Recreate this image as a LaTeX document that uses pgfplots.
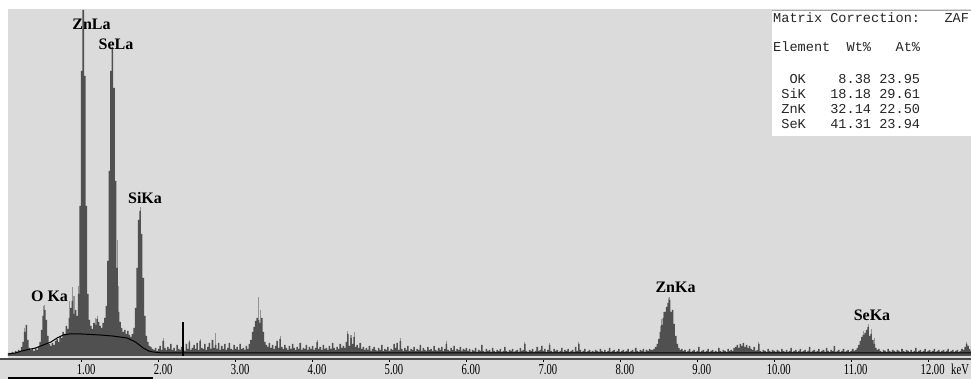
\documentclass[border=0pt]{standalone}
\usepackage{fontspec}
\usepackage{pgfplots}
\pgfplotsset{compat=1.18}
\setmainfont{Liberation Serif}
\newfontfamily\tickfamily[FakeStretch=0.7]{Liberation Serif}
\newfontfamily\peakfamily{Liberation Serif}
\newfontfamily\tabfamily{Liberation Mono}
\definecolor{panel}{HTML}{DBDBDB}
\definecolor{specdark}{HTML}{505050}
\definecolor{speclight}{HTML}{939393}
\definecolor{axisline}{HTML}{4A4A4A}
\definecolor{tabtext}{HTML}{262626}
\newcommand{\peakfont}{\peakfamily\bfseries\fontsize{16}{18}\selectfont}
\newcommand{\tickfont}{\tickfamily\fontsize{15.2}{17}\selectfont}
\newcommand{\tabfont}{\tabfamily\fontsize{13.6}{15}\selectfont}
\begin{document}
\begin{tikzpicture}
% panel backgrounds
\fill[white] (0pt,-20pt) rectangle (971pt,359pt);
\fill[panel] (8pt,-20pt) rectangle (971pt,350pt);
\fill[panel] (0pt,-20pt) rectangle (8pt,0pt);
\begin{axis}[
  at={(0pt,0pt)}, anchor=south west,
  scale only axis, width=971pt, height=359pt,
  xmin=-0.0617, xmax=12.557, ymin=-3, ymax=356,
  axis x line*=bottom, axis y line=none,
  x axis line style={-, draw=axisline, line width=2pt},
  xtick={1,2,3,4,5,6,7,8,9,10,11,12},
  xticklabels={1.00,2.00,3.00,4.00,5.00,6.00,7.00,8.00,9.00,10.00,11.00,12.00},
  ytick=\empty,
  tick align=outside, major tick length=3pt,
  xtick style={draw=black, line width=1pt},
  xticklabel style={font=\tickfont, anchor=north, inner sep=0pt, xshift=4.5pt, yshift=-2pt, text=black},
  clip=false,
]
% reference trace spikes (light)
\addplot[ycomb, draw=speclight, line width=1.1pt, mark=none] coordinates {
(0.26,28)(0.50,50)(0.52,51)(0.84,55)(0.88,69)(0.90,60)(0.96,70)(1.18,38)(1.20,40)
(1.46,116)(1.48,70)(1.76,149)(2.06,18)(2.40,16)(2.54,17)(2.74,23)(3.30,59)(3.32,46)
(3.58,20)(4.06,16)(4.46,25)(4.50,21)(4.54,24)(5.14,18)(5.74,15)(6.76,14)(7.08,13)
(7.46,14)(8.52,30)(8.54,37)(8.56,44)(8.62,58)(8.64,59)(9.80,14)(11.16,25)(11.22,32)
(11.26,27)(11.30,18)(12.50,14)};
% measured spectrum
\addplot[const plot mark mid, fill=specdark, draw=none, mark=none] coordinates {
(0.04,2)(0.06,3)(0.08,2)(0.10,4)(0.12,3)(0.14,5)(0.16,4)(0.18,6)(0.20,5)
(0.22,9)(0.24,14)(0.26,24)(0.28,31)(0.30,16)(0.32,8)(0.34,6)
(0.36,7)(0.38,5)(0.40,8)(0.42,6)(0.44,9)
(0.46,14)(0.48,26)(0.50,40)(0.52,46)(0.54,36)(0.56,20)(0.58,12)
(0.60,10)(0.62,13)(0.64,11)(0.66,15)(0.68,17)(0.70,14)(0.72,20)(0.74,18)(0.76,24)
(0.78,22)(0.80,30)(0.82,27)(0.84,38)(0.86,48)(0.88,55)(0.90,42)(0.92,46)(0.94,40)(0.96,62)
(0.98,150)(1.00,285)(1.02,346)(1.04,280)(1.06,150)(1.08,62)(1.10,36)
(1.12,30)(1.14,27)(1.16,33)(1.18,31)(1.20,37)(1.22,34)(1.24,30)(1.26,28)(1.28,33)(1.30,38)
(1.32,50)(1.34,95)(1.36,185)(1.38,285)(1.40,309)(1.42,268)(1.44,175)(1.46,88)(1.48,44)
(1.50,34)(1.52,28)(1.54,24)(1.56,26)(1.58,22)(1.60,25)(1.62,21)(1.64,19)(1.66,22)(1.68,28)
(1.70,48)(1.72,88)(1.74,136)(1.76,145)(1.78,122)(1.80,78)(1.82,40)(1.84,20)(1.86,14)
(1.88,10)(1.90,9)(1.92,7)(1.94,6)(1.96,8)(1.98,5)
(2.00,7)(2.02,10)(2.04,6)(2.06,15)(2.08,8)(2.10,6)(2.12,9)(2.14,7)(2.16,12)(2.18,6)
(2.20,8)(2.22,5)(2.24,11)(2.26,7)(2.28,6)(2.30,9)(2.32,7)(2.34,5)(2.36,12)(2.38,7)
(2.40,14)(2.42,6)(2.44,8)(2.46,11)(2.48,7)(2.50,13)(2.52,6)(2.54,15)(2.56,8)(2.58,7)
(2.60,12)(2.62,6)(2.64,9)(2.66,13)(2.68,7)(2.70,16)(2.72,8)(2.74,11)(2.76,7)(2.78,13)
(2.80,6)(2.82,10)(2.84,7)(2.86,12)(2.88,6)(2.90,8)(2.92,13)(2.94,7)(2.96,6)(2.98,11)
(3.00,7)(3.02,9)(3.04,6)(3.06,12)(3.08,7)(3.10,8)(3.12,6)(3.14,10)(3.16,7)(3.18,12)
(3.20,16)(3.22,24)(3.24,29)(3.26,35)(3.28,38)(3.30,36)(3.32,33)(3.34,38)(3.36,24)(3.38,14)(3.40,11)
(3.42,9)(3.44,13)(3.46,8)(3.48,11)(3.50,7)(3.52,10)(3.54,15)(3.56,8)(3.58,17)(3.60,9)
(3.62,7)(3.64,11)(3.66,8)(3.68,6)(3.70,10)(3.72,7)(3.74,12)(3.76,8)(3.78,6)(3.80,9)
(3.82,7)(3.84,13)(3.86,6)(3.88,8)(3.90,7)(3.92,11)(3.94,6)(3.96,9)(3.98,7)(4.00,10)
(4.02,6)(4.04,8)(4.06,14)(4.08,7)(4.10,9)(4.12,6)(4.14,11)(4.16,7)(4.18,8)(4.20,6)
(4.22,10)(4.24,7)(4.26,13)(4.28,8)(4.30,6)(4.32,9)(4.34,7)(4.36,12)(4.38,8)(4.40,10)
(4.42,8)(4.44,14)(4.46,22)(4.48,10)(4.50,18)(4.52,12)(4.54,19)(4.56,9)(4.58,11)(4.60,8)
(4.62,13)(4.64,7)(4.66,9)(4.68,6)(4.70,8)
(4.72,6)(4.74,10)(4.76,5)(4.78,7)(4.80,9)(4.82,6)(4.84,5)(4.86,8)(4.88,6)(4.90,11)
(4.92,5)(4.94,7)(4.96,6)(4.98,9)(5.00,5)(5.02,7)(5.04,6)(5.06,12)(5.08,8)(5.10,13)
(5.12,6)(5.14,15)(5.16,7)(5.18,5)(5.20,8)(5.22,6)(5.24,10)(5.26,5)(5.28,7)(5.30,6)
(5.32,9)(5.34,5)(5.36,7)(5.38,6)(5.40,11)(5.42,5)(5.44,8)(5.46,6)(5.48,5)(5.50,9)
(5.52,6)(5.54,7)(5.56,5)(5.58,10)(5.60,6)(5.62,5)(5.64,8)(5.66,6)(5.68,9)(5.70,5)
(5.72,7)(5.74,12)(5.76,6)(5.78,5)(5.80,8)(5.82,6)(5.84,10)(5.86,5)(5.88,7)(5.90,6)
(5.92,9)(5.94,5)(5.96,7)(5.98,6)(6.00,8)
(6.02,5)(6.04,7)(6.06,4)(6.08,6)(6.10,5)(6.12,8)(6.14,4)(6.16,6)(6.18,5)(6.20,11)
(6.22,5)(6.24,4)(6.26,7)(6.28,5)(6.30,6)(6.32,4)(6.34,8)(6.36,5)(6.38,4)(6.40,6)
(6.42,5)(6.44,7)(6.46,4)(6.48,5)(6.50,9)(6.52,5)(6.54,4)(6.56,6)(6.58,5)(6.60,7)
(6.62,4)(6.64,5)(6.66,6)(6.68,4)(6.70,8)(6.72,5)(6.74,6)(6.76,12)(6.78,5)(6.80,4)
(6.82,6)(6.84,5)(6.86,7)(6.88,4)(6.90,5)(6.92,9)(6.94,5)(6.96,6)(6.98,10)(7.00,5)
(7.02,7)(7.04,4)(7.06,6)(7.08,11)(7.10,5)(7.12,4)(7.14,7)(7.16,5)(7.18,6)(7.20,4)
(7.22,5)(7.24,8)(7.26,4)(7.28,6)(7.30,5)(7.32,7)(7.34,4)(7.36,5)(7.38,6)(7.40,4)
(7.42,9)(7.44,5)(7.46,12)(7.48,6)(7.50,4)(7.52,5)(7.54,7)(7.56,4)(7.58,5)(7.60,6)
(7.62,4)(7.64,5)(7.66,4)(7.68,6)(7.70,5)(7.72,4)(7.74,7)(7.76,5)(7.78,4)(7.80,6)
(7.82,4)(7.84,5)(7.86,8)(7.88,4)(7.90,5)(7.92,6)(7.94,4)(7.96,5)(7.98,7)(8.00,4)
(8.02,5)(8.04,6)(8.06,4)(8.08,5)(8.10,7)(8.12,4)(8.14,5)(8.16,6)(8.18,4)(8.20,8)
(8.22,5)(8.24,4)(8.26,6)(8.28,5)(8.30,7)(8.32,4)(8.34,6)(8.36,5)(8.38,7)(8.40,6)
(8.42,6)(8.44,7)(8.46,9)(8.48,12)(8.50,17)(8.52,24)(8.54,31)(8.56,38)(8.58,44)(8.60,49)
(8.62,53)(8.64,56)(8.66,44)(8.68,46)(8.70,32)(8.72,20)(8.74,12)(8.76,8)(8.78,6)(8.80,7)
(8.82,5)(8.84,6)
(8.86,4)(8.88,5)(8.90,7)(8.92,4)(8.94,5)(8.96,6)(8.98,4)(9.00,5)(9.02,9)(9.04,4)
(9.06,5)(9.08,6)(9.10,4)(9.12,5)(9.14,7)(9.16,4)(9.18,5)(9.20,6)(9.22,4)(9.24,5)
(9.26,4)(9.28,8)(9.30,5)(9.32,4)(9.34,6)(9.36,5)(9.38,4)(9.40,7)(9.42,5)(9.44,6)
(9.46,5)(9.48,8)(9.50,9)(9.52,11)(9.54,8)(9.56,12)(9.58,10)(9.60,13)(9.62,9)(9.64,11)
(9.66,8)(9.68,10)(9.70,7)(9.72,6)(9.74,9)(9.76,5)(9.78,6)(9.80,12)(9.82,5)(9.84,4)
(9.86,6)(9.88,5)(9.90,4)(9.92,7)(9.94,5)(9.96,4)(9.98,6)(10.00,5)(10.02,4)(10.04,6)
(10.06,5)(10.08,4)(10.10,7)(10.12,5)(10.14,4)(10.16,6)(10.18,4)(10.20,5)(10.22,8)(10.24,4)
(10.26,5)(10.28,6)(10.30,4)(10.32,5)(10.34,7)(10.36,4)(10.38,5)(10.40,6)(10.42,4)(10.44,5)
(10.46,9)(10.48,4)(10.50,5)(10.52,6)(10.54,4)(10.56,5)(10.58,7)(10.60,4)(10.62,5)(10.64,6)
(10.66,4)(10.68,8)(10.70,5)(10.72,4)(10.74,6)(10.76,5)(10.78,10)(10.80,4)(10.82,5)(10.84,6)
(10.86,4)(10.88,5)(10.90,7)(10.92,4)(10.94,5)(10.96,6)(10.98,4)(11.00,5)(11.02,7)(11.04,5)
(11.06,6)(11.08,8)(11.10,11)(11.12,15)(11.14,19)(11.16,21)(11.18,23)(11.20,26)(11.22,29)(11.24,20)
(11.26,22)(11.28,16)(11.30,12)(11.32,8)(11.34,6)(11.36,7)(11.38,5)
(11.40,4)(11.42,6)(11.44,5)(11.46,4)(11.48,7)(11.50,5)(11.52,4)(11.54,6)(11.56,5)(11.58,4)
(11.60,6)(11.62,5)(11.64,4)(11.66,7)(11.68,5)(11.70,4)(11.72,6)(11.74,5)(11.76,4)(11.78,6)
(11.80,4)(11.82,5)(11.84,8)(11.86,4)(11.88,5)(11.90,6)(11.92,4)(11.94,5)(11.96,7)(11.98,4)
(12.00,5)(12.02,6)(12.04,4)(12.06,5)(12.08,7)(12.10,4)(12.12,5)(12.14,6)(12.16,4)(12.18,5)
(12.20,6)(12.22,4)(12.24,5)(12.26,7)(12.28,4)(12.30,5)(12.32,6)(12.34,4)(12.36,5)(12.38,6)
(12.40,4)(12.42,5)(12.44,7)(12.46,6)(12.48,9)(12.50,12)(12.52,10)(12.54,7)(12.56,5)
} \closedcycle;
% fitted background continuum
\addplot[black, line width=1pt, mark=none] coordinates {
(0.04,2)(0.14,3)(0.22,5)(0.40,8)(0.50,11)(0.60,14)(0.68,18)(0.76,21)(0.84,22)
(1.00,22)(1.24,21)(1.40,20)(1.59,18)(1.70,14)(1.80,8)(1.87,5)(1.93,4)(2.05,3)(12.56,3)};
% energy cursor
\addplot[black, line width=1.6pt, mark=none] coordinates {(2.32,0)(2.32,34)};
% peak identifications
\node[font=\peakfont, inner sep=0pt] at (axis cs:1.127,332) {ZnLa};
\node[font=\peakfont, inner sep=0pt] at (axis cs:1.446,312) {SeLa};
\node[font=\peakfont, inner sep=0pt] at (axis cs:1.823,158) {SiKa};
\node[font=\peakfont, inner sep=0pt] at (axis cs:0.582,60) {O Ka};
\node[font=\peakfont, inner sep=0pt] at (axis cs:8.717,68.5) {ZnKa};
\node[font=\peakfont, inner sep=0pt] at (axis cs:11.27,41) {SeKa};
\end{axis}
% unit label
\node[font=\tickfont, anchor=north west, inner sep=0pt] at (951pt,-5pt) {keV};
% scroll bar remnant
\draw[black, line width=2pt] (8pt,-19pt) -- (153pt,-19pt);
% quantification table
\fill[white] (772pt,223pt) rectangle (971pt,348pt);
\draw[gray!70, line width=1pt] (772pt,348pt) -- (971pt,348pt);
\begin{scope}[every node/.style={font=\tabfont, text=tabtext, anchor=base west, inner sep=0pt}]
\node at (773pt,336pt) {Matrix Correction:~~~ZAF};
\node at (773pt,307pt) {Element~~Wt\%~~~At\%};
\node at (773pt,275.5pt) {~~OK~~~~8.38~23.95};
\node at (773pt,260.5pt) {~SiK~~~18.18~29.61};
\node at (773pt,245.5pt) {~ZnK~~~32.14~22.50};
\node at (773pt,230.5pt) {~SeK~~~41.31~23.94};
\end{scope}
\pgfresetboundingbox
\useasboundingbox (0pt,-20pt) rectangle (971pt,359pt);
\end{tikzpicture}
\end{document}
